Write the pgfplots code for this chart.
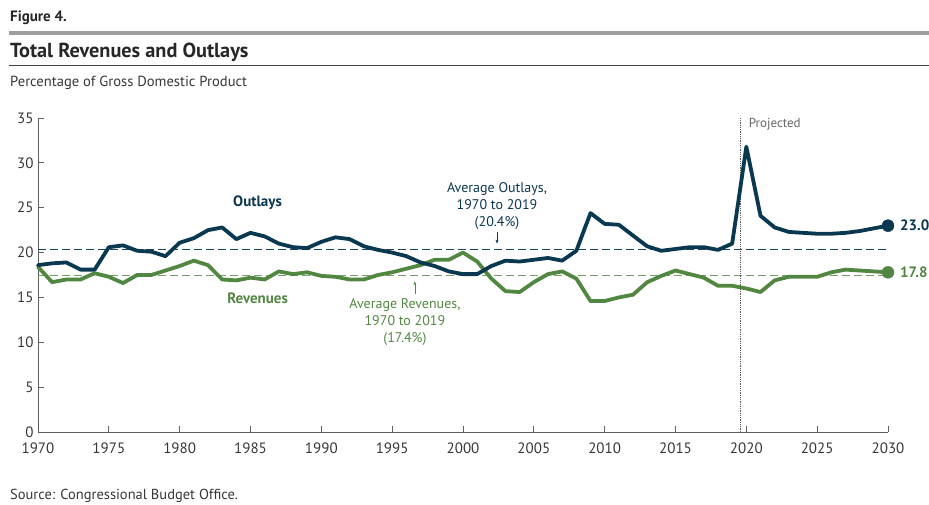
\documentclass[border=0pt]{standalone}
\usepackage{fontspec}
\setmainfont{PT Sans}
\usepackage{pgfplots}
\usepackage{pgfplotstable}
\pgfplotsset{compat=1.18}
\usetikzlibrary{arrows.meta}
\definecolor{navy}{RGB}{10,56,80}
\definecolor{grn}{RGB}{82,135,66}
\definecolor{navyd}{RGB}{25,70,95}
\definecolor{grnd}{RGB}{118,160,105}
\definecolor{axgray}{RGB}{95,95,95}
\definecolor{txtgray}{RGB}{55,55,55}

\pgfplotstableread{
year val
1970 18.6
1971 18.8
1972 18.9
1973 18.1
1974 18.1
1975 20.6
1976 20.8
1977 20.2
1978 20.1
1979 19.6
1980 21.1
1981 21.6
1982 22.5
1983 22.8
1984 21.5
1985 22.2
1986 21.8
1987 21.0
1988 20.6
1989 20.5
1990 21.2
1991 21.7
1992 21.5
1993 20.7
1994 20.3
1995 20.0
1996 19.6
1997 18.9
1998 18.5
1999 17.9
2000 17.6
2001 17.6
2002 18.5
2003 19.1
2004 19.0
2005 19.2
2006 19.4
2007 19.1
2008 20.2
2009 24.4
2010 23.2
2011 23.1
2012 21.9
2013 20.7
2014 20.2
2015 20.4
2016 20.6
2017 20.6
2018 20.3
2019 21.0
2020 31.8
2021 24.1
2022 22.8
2023 22.3
2024 22.2
2025 22.1
2026 22.1
2027 22.2
2028 22.4
2029 22.7
2030 23.0
}\outlays

\pgfplotstableread{
year val
1970 18.4
1971 16.7
1972 17.0
1973 17.0
1974 17.7
1975 17.3
1976 16.6
1977 17.5
1978 17.5
1979 18.0
1980 18.5
1981 19.1
1982 18.6
1983 17.0
1984 16.9
1985 17.2
1986 17.0
1987 17.9
1988 17.6
1989 17.8
1990 17.4
1991 17.3
1992 17.0
1993 17.0
1994 17.5
1995 17.8
1996 18.2
1997 18.6
1998 19.2
1999 19.2
2000 20.0
2001 19.0
2002 17.1
2003 15.7
2004 15.6
2005 16.7
2006 17.6
2007 17.9
2008 17.1
2009 14.6
2010 14.6
2011 15.0
2012 15.3
2013 16.7
2014 17.4
2015 18.0
2016 17.6
2017 17.2
2018 16.3
2019 16.3
2020 16.0
2021 15.6
2022 16.9
2023 17.3
2024 17.3
2025 17.3
2026 17.8
2027 18.1
2028 18.0
2029 17.9
2030 17.8
}\revenues

\begin{document}
\begin{tikzpicture}[x=1pt,y=1pt]
\path[use as bounding box] (0pt,0pt) rectangle (929pt,504pt);
% header
\node[anchor=base west, inner sep=0, text=black!85, font=\fontsize{15}{17}\selectfont\bfseries] at (10pt,482pt) {Figure 4.};
\fill[black!38] (9pt,469pt) rectangle (929pt,472.5pt);
\node[anchor=base west, inner sep=0, text=black!85, font=\fontsize{20.3}{23}\selectfont\bfseries] at (10pt,446pt) {Total Revenues and Outlays};
\draw[line width=1pt, black!75] (9pt,438.5pt) -- (929pt,438.5pt);
\node[anchor=base west, inner sep=0, text=txtgray, font=\fontsize{14.6}{17}\selectfont] at (10pt,417pt) {Percentage of Gross Domestic Product};
\node[anchor=base west, inner sep=0, text=txtgray, font=\fontsize{14.5}{17}\selectfont] at (10pt,5pt) {Source: Congressional Budget Office.};

\begin{axis}[
  at={(38pt,72pt)}, anchor=south west,
  scale only axis, width=850pt, height=314pt,
  xmin=1970, xmax=2030, ymin=0, ymax=35,
  axis lines=left,
  axis line style={-, axgray, line width=0.9pt},
  tick style={axgray, line width=0.9pt},
  tick align=inside,
  major tick length=6pt,
  xtick={1970,1975,...,2030},
  ytick={0,5,...,35},
  /pgf/number format/assume math mode=true,
  xticklabel={\pgfmathprintnumber[1000 sep={}]{\tick}},
  ticklabel style={text=txtgray, font=\fontsize{15}{17}\selectfont},
  xticklabel style={yshift=-7pt},
  yticklabel style={xshift=-1pt},
  clip=false,
]
% average lines
\addplot[navyd, line width=0.9pt, dash pattern=on 8pt off 4pt] coordinates {(1970,20.4) (2030,20.4)};
\addplot[grnd, line width=0.9pt, dash pattern=on 8pt off 4pt] coordinates {(1970,17.4) (2030,17.4)};
% projected divider
\addplot[black!65, line width=0.8pt, densely dotted] coordinates {(2019.6,0) (2019.6,35)};
% series
\addplot[grn, line width=3.8pt, line join=round, line cap=round] table[x=year,y=val] {\revenues};
\addplot[navy, line width=3.8pt, line join=round, line cap=round] table[x=year,y=val] {\outlays};
% end markers
\addplot[navy, only marks, mark=*, mark size=6pt] coordinates {(2030,23.0)};
\addplot[grn, only marks, mark=*, mark size=6pt] coordinates {(2030,17.8)};

% labels
\node[anchor=west, inner sep=0, xshift=12pt, text=navy, font=\fontsize{15}{17}\selectfont\bfseries] at (axis cs:2030,23.0) {23.0};
\node[anchor=west, inner sep=0, xshift=12pt, text=grn, font=\fontsize{15}{17}\selectfont\bfseries] at (axis cs:2030,17.8) {17.8};
\node[anchor=base west, inner sep=0, xshift=8pt, text=black!60, font=\fontsize{13}{15}\selectfont] at (axis cs:2019.6,33.9) {Projected};
\node[text=navy, font=\fontsize{15}{17}\selectfont\bfseries] at (axis cs:1985.5,25.6) {Outlays};
\node[text=grn, font=\fontsize{15}{17}\selectfont\bfseries] at (axis cs:1985.5,14.9) {Revenues};
\node[anchor=south, inner sep=1pt, align=center, text=navy, font=\fontsize{14}{17}\selectfont] at (axis cs:2002.4,22.4) {Average Outlays,\\1970 to 2019\\(20.4\%)};
\draw[navy, line width=0.6pt, -{Stealth[length=4pt,width=3pt]}] (axis cs:2002.4,22.3) -- (axis cs:2002.4,21.0);
\node[anchor=north, inner sep=1pt, align=center, text=grn, font=\fontsize{14}{17}\selectfont] at (axis cs:1995.9,15.0) {Average Revenues,\\1970 to 2019\\(17.4\%)};
\draw[grn, line width=0.6pt, -{Stealth[length=4pt,width=3pt]}] (axis cs:1996.6,15.4) -- (axis cs:1996.6,16.8);
\end{axis}
\end{tikzpicture}
\end{document}
